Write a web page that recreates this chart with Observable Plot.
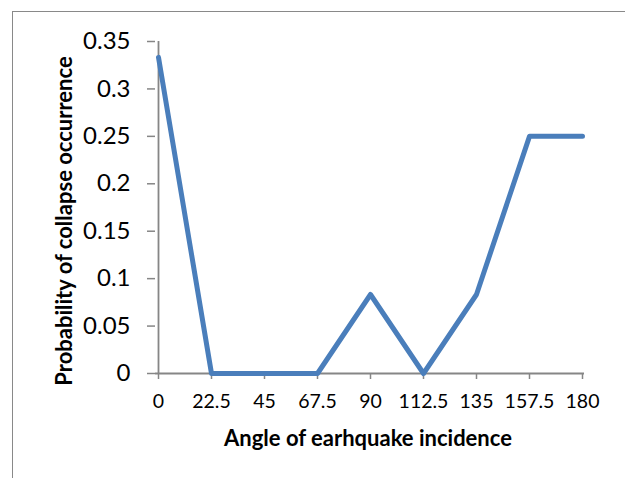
<!DOCTYPE html>
<html>
<head>
<meta charset="utf-8">
<script src="https://cdn.jsdelivr.net/npm/d3@7"></script>
<script src="https://cdn.jsdelivr.net/npm/@observablehq/plot@0.6"></script>
<style>
  html, body { margin: 0; padding: 0; background: #fff; overflow: hidden; }
  g[aria-label="y-axis tick"], g[aria-label="x-axis tick"] { stroke: #868686; stroke-width: 1.5px; }
</style>
</head>
<body>
<div id="chart"></div>
<script>
const angles = [0, 22.5, 45, 67.5, 90, 112.5, 135, 157.5, 180];
const probability = [0.3333, 0, 0, 0, 0.0833, 0, 0.0833, 0.25, 0.25];
const yTicks = [0, 0.05, 0.1, 0.15, 0.2, 0.25, 0.3, 0.35];
const xTitle = "Angle of earhquake incidence";
const yTitle = "Probability of collapse occurrence";

const data = angles.map((a, i) => ({angle: String(a), p: probability[i]}));

const chart = Plot.plot({
  width: 625,
  height: 478,
  marginLeft: 155,
  marginRight: 41,
  marginTop: 41,
  marginBottom: 105,
  style: {fontFamily: "Lato", background: "white", color: "black"},
  x: {type: "point", domain: angles.map(String), padding: 0},
  y: {domain: [0, 0.35]},
  marks: [
    Plot.axisY(yTicks, {tickSize: 8, tickPadding: 17, fontSize: 24, tickFormat: d => String(d), label: null}),
    Plot.axisX({tickSize: 6, tickPadding: 15, fontSize: 19.5, label: null}),
    Plot.ruleX([angles.map(String)[0]], {stroke: "#868686", strokeWidth: 1.8}),
    Plot.ruleY([0], {stroke: "#868686", strokeWidth: 1.8}),
    Plot.line(data, {x: "angle", y: "p", stroke: "#4a7ebb", strokeWidth: 5, strokeLinejoin: "round", strokeLinecap: "round"})
  ]
});

const svg = d3.select(chart);
svg.insert("rect", ":first-child")
  .attr("x", 12.5).attr("y", 11.5).attr("width", 800).attr("height", 800)
  .attr("fill", "none").attr("stroke", "#898989").attr("stroke-width", 1);
svg.append("text")
  .attr("x", 368).attr("y", 445.5)
  .attr("text-anchor", "middle")
  .attr("font-family", "Lato").attr("font-weight", "bold").attr("font-size", 22)
  .attr("fill", "black")
  .text(xTitle);
svg.append("text")
  .attr("transform", "translate(72,221) rotate(-90)")
  .attr("text-anchor", "middle")
  .attr("font-family", "Lato").attr("font-weight", "bold").attr("font-size", 22)
  .attr("fill", "black")
  .text(yTitle);

document.getElementById("chart").appendChild(chart);
</script>
</body>
</html>
